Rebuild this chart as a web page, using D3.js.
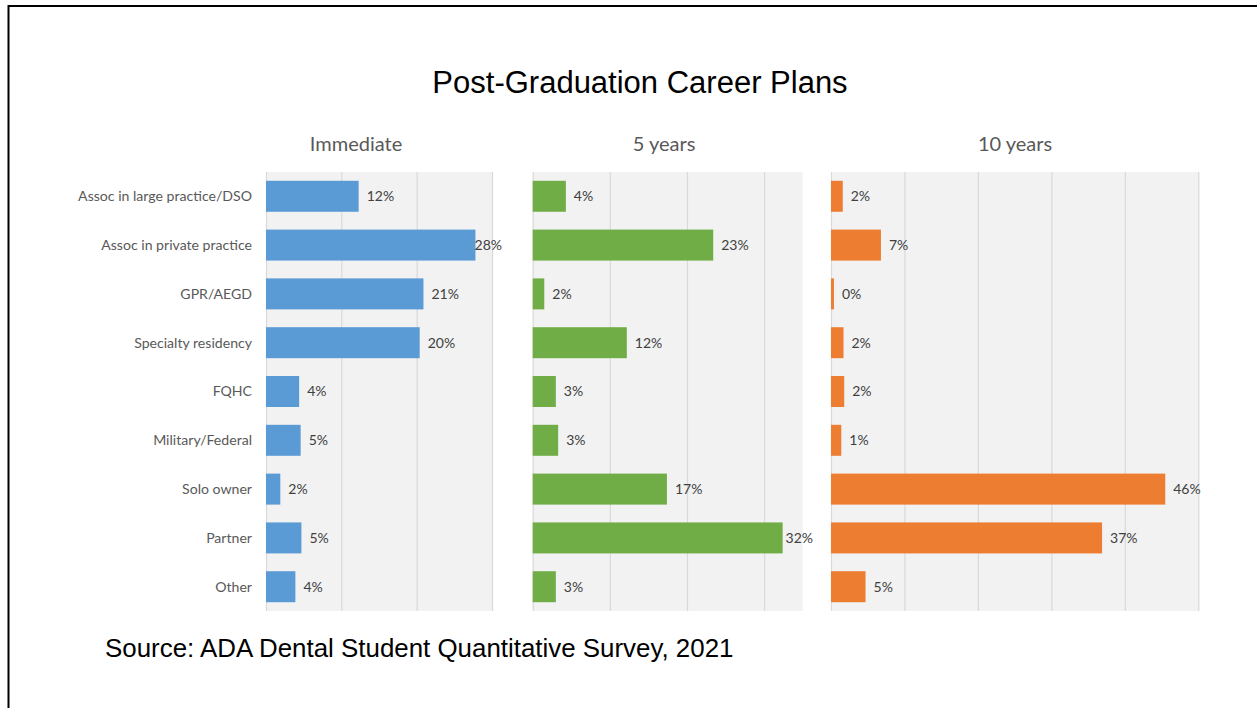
<!DOCTYPE html>
<html>
<head>
<meta charset="utf-8">
<script src="https://cdn.jsdelivr.net/npm/d3@7"></script>
<style>
  html, body { margin: 0; padding: 0; background: #fff; }
  svg { display: block; }
</style>
</head>
<body>
<div id="chart"></div>
<script>

// categories, top to bottom
var categories = [
    "Assoc in large practice/DSO",
    "Assoc in private practice",
    "GPR/AEGD",
    "Specialty residency",
    "FQHC",
    "Military/Federal",
    "Solo owner",
    "Partner",
    "Other"
];

// percent of students
var immediate  = [12.3, 27.8, 20.9, 20.4, 4.4, 4.6, 1.9, 4.7, 3.9];
var fiveYears  = [4.3, 23.4, 1.5, 12.2, 3.0, 3.3, 17.4, 32.4, 3.0];
var tenYears   = [1.6, 6.8, 0.4, 1.7, 1.8, 1.4, 45.5, 36.9, 4.7];

var panelTitles = ["Immediate", "5 years", "10 years"];
var panelMax    = [30, 35, 50];
var panelTicks  = [[0, 10, 20, 30], [0, 10, 20, 30], [0, 10, 20, 30, 40, 50]];

var chartTitle = "Post-Graduation Career Plans";
var sourceNote = "Source: ADA Dental Student Quantitative Survey, 2021";


var W = 1257, H = 708;
var bodyFont = "Lato, 'Open Sans', sans-serif";

var svg = d3.select("#chart").append("svg")
    .attr("width", W)
    .attr("height", H);

// frame (right and bottom edges fall outside the picture)
svg.append("rect")
    .attr("x", 8.5).attr("y", 6)
    .attr("width", W + 20).attr("height", H + 20)
    .attr("fill", "#fff")
    .attr("stroke", "#000")
    .attr("stroke-width", 2);

svg.append("text")
    .attr("x", 640).attr("y", 93)
    .attr("text-anchor", "middle")
    .attr("font-family", "'Liberation Sans', Arial, sans-serif")
    .attr("font-size", 31)
    .attr("fill", "#000")
    .text(chartTitle);

svg.append("text")
    .attr("x", 105).attr("y", 657)
    .attr("font-family", "'Liberation Sans', Arial, sans-serif")
    .attr("font-size", 25.9)
    .attr("fill", "#000")
    .text(sourceNote);

// plot area rows shared by all three panels
var plotTop = 172, plotBottom = 611;

var yscale = d3.scaleBand()
    .domain(categories)
    .range([plotTop, plotBottom])
    .paddingInner(0.365)
    .paddingOuter(0.18);

// left/right of each gray plot area, plus where labels get clamped
var panels = [
    { values: immediate, x0: 266,   x1: 492,    color: "#5B9BD5", titleX: 356,  labelMax: 502 },
    { values: fiveYears, x0: 532.7, x1: 802.7,  color: "#70AD47", titleX: 664,  labelMax: 813 },
    { values: tenYears,  x0: 831,   x1: 1198.3, color: "#ED7D31", titleX: 1015, labelMax: 1210 }
];

// category labels at left of first panel
svg.append("g").selectAll("text")
    .data(categories)
    .join("text")
    .attr("x", panels[0].x0 - 14)
    .attr("y", function(d) { return yscale(d) + yscale.bandwidth() / 2; })
    .attr("dy", "0.35em")
    .attr("text-anchor", "end")
    .attr("font-family", bodyFont)
    .attr("font-size", 14.1)
    .attr("fill", "#595959")
    .text(function(d) { return d; });

panels.forEach(function(p, k) {

    var xscale = d3.scaleLinear()
        .domain([0, panelMax[k]])
        .range([p.x0, p.x1]);

    var g = svg.append("g");

    g.append("rect")
        .attr("x", p.x0).attr("y", plotTop)
        .attr("width", p.x1 - p.x0)
        .attr("height", plotBottom - plotTop)
        .attr("fill", "#F2F2F2");

    // grid lines
    g.append("g")
        .attr("transform", "translate(0," + plotTop + ")")
        .call(d3.axisBottom(xscale)
            .tickValues(panelTicks[k])
            .tickFormat("")
            .tickSize(plotBottom - plotTop)
            .tickSizeOuter(0))
        .call(function(a) {
            a.select(".domain").remove();
            a.selectAll("line").attr("stroke", "#D9D9D9").attr("stroke-width", 1.2);
        });

    g.append("text")
        .attr("x", p.titleX).attr("y", 151)
        .attr("text-anchor", "middle")
        .attr("font-family", bodyFont)
        .attr("font-size", 20)
        .attr("fill", "#595959")
        .text(panelTitles[k]);

    var rows = categories.map(function(c, i) { return { cat: c, v: p.values[i] }; });

    g.selectAll(".bar")
        .data(rows)
        .join("rect")
        .attr("class", "bar")
        .attr("x", xscale(0))
        .attr("y", function(d) { return yscale(d.cat); })
        .attr("width", function(d) { return xscale(d.v) - xscale(0); })
        .attr("height", yscale.bandwidth())
        .attr("fill", p.color);

    g.selectAll(".lbl")
        .data(rows)
        .join("text")
        .attr("class", "lbl")
        .attr("y", function(d) { return yscale(d.cat) + yscale.bandwidth() / 2; })
        .attr("dy", "0.35em")
        .attr("font-family", bodyFont)
        .attr("font-size", 14)
        .attr("fill", "#404040")
        .text(function(d) { return Math.round(d.v) + "%"; })
        .attr("x", function(d) {
            // push label back in when it would run past the chart edge
            var w = this.getComputedTextLength();
            return Math.min(xscale(d.v) + 8, p.labelMax - w);
        });
});

</script>
</body>
</html>
